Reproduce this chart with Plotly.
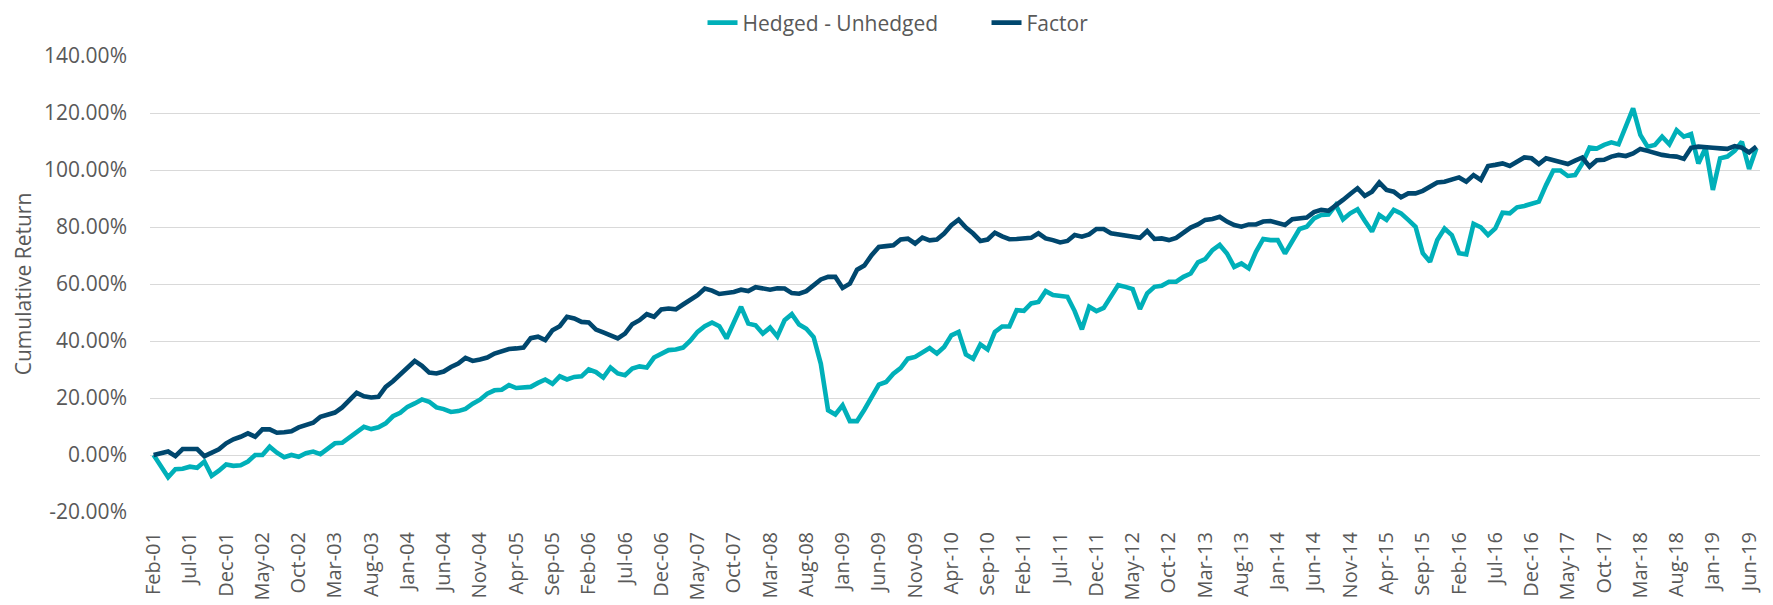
import pandas as pd
import plotly.graph_objects as go

# Monthly categories Feb-01 .. Jul-19
months = list(pd.date_range("2001-02-01", "2019-07-01", freq="MS").strftime("%b-%y"))

hedged_minus_unhedged = [
    0.0, -4.1, -7.8, -5.0, -4.8, -4.1, -4.5, -2.3, -7.3, -5.5,
    -3.3, -3.8, -3.6, -2.3, 0.0, 0.0, 2.9, 0.8, -0.8, 0.0,
    -0.6, 0.6, 1.2, 0.3, 2.3, 4.1, 4.3, 6.2, 8.2, 9.9,
    9.1, 9.7, 11.1, 13.6, 14.8, 16.9, 18.1, 19.5, 18.7, 16.7,
    16.1,
    15.1, 15.4, 16.2, 18.0, 19.4, 21.5, 22.7, 22.9, 24.5, 23.5,
    23.5, 23.9, 25.3, 26.5, 25.0, 27.6, 26.5, 27.4, 27.6, 30.0,
    29.1, 27.2, 30.7, 28.6, 28.0, 30.3, 31.1, 30.7, 34.2, 35.4,
    36.8, 37.0, 37.7, 40.1, 43.2, 45.2, 46.5, 45.2, 40.9, 46.5,
    52.0, 46.1, 45.5, 42.6, 44.7, 41.6, 47.3, 49.4, 45.8, 44.3,
    41.4, 32.0, 15.7, 14.2, 17.4, 11.9, 11.9, 15.9, 20.1, 24.7,
    25.6, 28.5, 30.5, 33.8, 34.4, 35.8, 37.5, 35.6, 37.9, 42.0,
    43.2, 35.3, 33.8, 38.8, 37.0, 43.2, 45.1, 45.1, 50.8, 50.6,
    53.2, 53.7, 57.5, 56.1, 55.8, 55.5, 50.5, 44.1, 52.0, 50.5,
    51.6, 55.8, 59.6, 59.0, 58.2, 51.2, 56.7, 59.0, 59.4, 60.8,
    60.8, 62.5, 63.7, 67.6, 68.7, 71.9, 73.7, 70.7, 66.0, 67.2,
    65.5, 71.3, 75.8, 75.4, 75.4, 70.7, 75.4, 79.3, 80.1, 83.0,
    84.2, 84.4, 87.7, 82.7, 84.8, 86.2, 82.2, 78.4, 84.2, 82.5,
    86.0, 84.8, 82.5, 80.1, 70.8, 67.8, 75.4, 79.5, 77.2, 70.8,
    70.4, 81.1, 79.9, 77.2, 79.5, 85.0, 84.8, 86.9, 87.4, 88.1,
    88.9, 94.7, 99.8, 99.8, 97.9, 98.2, 102.3,
    107.9, 107.5, 108.8, 109.7, 109.0, 115.2, 121.6, 112.3, 108.2, 108.8,
    111.7, 109.0, 114.0, 111.7, 112.6, 102.3, 107.8, 93.0, 104.1, 104.7,
    106.7, 109.9, 100.4, 107.6,
]

factor = [
    0.0, 0.6, 1.2, -0.4, 2.1, 2.1, 2.1, -0.4, 0.8, 2.0,
    4.1, 5.5, 6.4, 7.6, 6.4, 9.0, 9.0, 7.8, 8.0, 8.3,
    9.7, 10.7, 11.3, 13.4, 14.3, 14.9, 16.7, 19.0, 21.8, 20.6,
    20.2, 20.4, 23.9, 25.9, 28.2, 30.6, 33.0, 31.3, 28.9, 28.6,
    29.3,
    30.9, 32.1, 34.1, 33.0, 33.5, 34.2, 35.6, 36.3, 37.2, 37.4,
    37.7, 41.0, 41.5, 40.3, 43.8, 45.2, 48.5, 47.9, 46.7, 46.5,
    44.0, 43.0, 42.1, 40.9, 42.6, 45.9, 47.3, 49.4, 48.5, 51.1,
    51.4, 51.1, 52.8, 54.6, 56.1, 58.4, 57.7, 56.5, 56.7, 57.2,
    58.0, 57.5, 58.9, 58.6, 58.0, 58.5, 58.4, 56.8, 56.6, 57.5,
    59.5, 61.6, 62.5, 62.5, 58.6, 60.1, 65.0, 66.5, 70.1, 73.0,
    73.3, 73.6, 75.6, 75.9, 74.2, 76.3, 75.3, 75.6, 77.7, 80.6,
    82.6, 79.8, 77.7, 75.1, 75.6, 78.0, 76.7, 75.7, 75.8, 76.0,
    76.2, 77.8, 76.0, 75.4, 74.6, 75.1, 77.2, 76.6, 77.4, 79.3,
    79.3, 77.8, 77.5, 77.2, 76.8, 76.2, 78.6, 75.8, 76.0, 75.4,
    76.2, 78.0, 79.8, 80.9, 82.5, 82.8, 83.6, 81.9, 80.7, 80.1,
    80.9, 80.9, 81.9, 82.1, 81.3, 80.7, 82.7, 82.8, 83.3, 85.2,
    86.0, 85.7, 87.4, 89.5, 91.6, 93.6, 90.9, 92.4, 95.6, 93.0,
    92.4, 90.4, 91.8, 91.8, 92.7, 94.2, 95.6, 95.9, 96.7, 97.4,
    95.9, 98.2, 96.5, 101.4, 101.8, 102.3, 101.4, 102.9, 104.4, 104.1,
    102.1, 104.1, 103.5, 102.9, 102.1, 103.3, 104.4,
    101.2, 103.4, 103.6, 104.7, 105.3, 104.9, 105.8, 107.4, 106.7, 105.8,
    105.3, 104.9, 104.7, 103.9, 107.8, 108.2, 107.8, 107.8, 107.6, 107.4,
    108.4, 107.8, 106.2, 108.2,
]

y_tick_values = [-20, 0, 20, 40, 60, 80, 100, 120, 140]
y_tick_labels = ["-20.00%", "0.00%", "20.00%", "40.00%", "60.00%",
                 "80.00%", "100.00%", "120.00%", "140.00%"]

TEAL = "#00B0B9"
NAVY = "#00476E"
GRID = "#D9D9D9"
TEXT = "#595959"
FONT = "Open Sans"

n = len(months)

fig = go.Figure()
fig.add_trace(go.Scatter(x=months, y=hedged_minus_unhedged, mode="lines",
                         name="Hedged - Unhedged",
                         line=dict(color=TEAL, width=4.6)))
fig.add_trace(go.Scatter(x=months, y=factor, mode="lines", name="Factor",
                         line=dict(color=NAVY, width=4.6)))

# the page body adds an 8px offset, so the figure is sized/margined to compensate
fig.update_layout(
    width=1765, height=597,
    margin=dict(l=142, r=13, t=48, b=93, autoexpand=False),
    paper_bgcolor="white", plot_bgcolor="white",
    font=dict(family=FONT, size=21, color=TEXT),
    showlegend=True,
    legend=dict(orientation="h", xref="container", yref="container",
                x=0.5544, xanchor="center", y=0.9749, yanchor="middle",
                font=dict(family=FONT, size=21, color=TEXT),
                entrywidth=239, tracegroupgap=0),
    xaxis=dict(type="category", range=[-0.5, n - 0.5], automargin=False,
               tickmode="array", tickvals=months[::5],
               tickangle=-90, ticks="", showgrid=False, zeroline=False,
               showline=False, ticklabelstandoff=15,
               tickfont=dict(family=FONT, size=20, color=TEXT)),
    xaxis2=dict(overlaying="x", anchor="free", position=0.125,
                automargin=False,
                range=[-0.5, n - 0.5], tickmode="array",
                tickvals=[k - 0.5 for k in range(0, n, 5)],
                ticks="outside", ticklen=7, tickcolor=GRID, tickwidth=1.3,
                showticklabels=False, showgrid=False, zeroline=False,
                showline=False),
    yaxis=dict(range=[-20, 140], tickmode="array", tickvals=y_tick_values,
               ticktext=y_tick_labels, showgrid=True, gridcolor=GRID,
               gridwidth=1.3, zeroline=False, showline=False, ticks="",
               automargin=False, ticklabelstandoff=22,
               tickfont=dict(family=FONT, size=21, color=TEXT),
               title=dict(text="Cumulative Return", standoff=6,
                          font=dict(family=FONT, size=21, color=TEXT))),
)

fig.write_html("out.html")
